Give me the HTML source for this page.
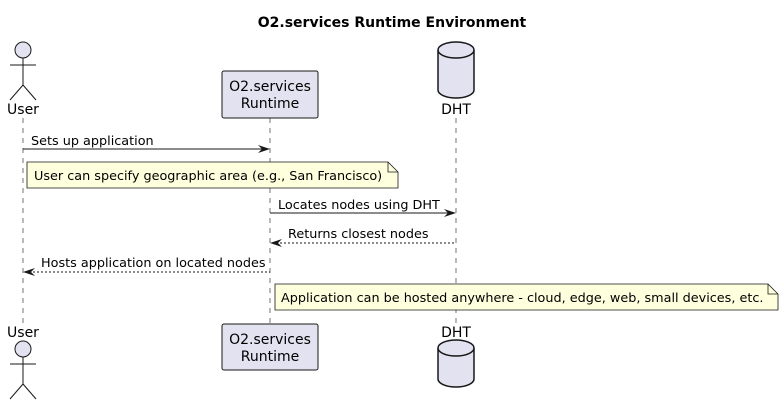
<!DOCTYPE html>
<html><head><meta charset="utf-8"><style>body{margin:0;background:#fff}svg{display:block}</style></head><body>
<svg width="784" height="405" xmlns="http://www.w3.org/2000/svg" font-family="DejaVu Sans, Liberation Sans, sans-serif">
<text x="392" y="27" text-anchor="middle" font-weight="bold" font-size="14">O2.services Runtime Environment</text>
<g stroke="#181818" stroke-width="0.6" stroke-dasharray="5,5">
<line x1="23" y1="118" x2="23" y2="323"/>
<line x1="270" y1="118" x2="270" y2="323"/>
<line x1="456" y1="118" x2="456" y2="323"/>
</g>
<g fill="#E2E2F0" stroke="#181818" stroke-width="1">
<circle cx="23" cy="50" r="8"/>
<line x1="23" y1="58" x2="23" y2="85"/><line x1="10" y1="65" x2="36" y2="65"/>
<line x1="23" y1="85" x2="10" y2="100"/><line x1="23" y1="85" x2="36" y2="100"/>
<circle cx="23" cy="349" r="8"/>
<line x1="23" y1="357" x2="23" y2="384"/><line x1="10" y1="364" x2="36" y2="364"/>
<line x1="23" y1="384" x2="10" y2="399"/><line x1="23" y1="384" x2="36" y2="399"/>
<rect x="222" y="71" width="96" height="47" rx="2"/>
<rect x="222" y="324" width="96" height="46" rx="2"/>
</g>
<g fill="#E2E2F0" stroke="#181818" stroke-width="1.5">
<path d="M438,50 a18,8 0 0 1 36,0 v40 a18,8 0 0 1 -36,0 z"/>
<path d="M438,50 a18,8 0 0 0 36,0"/>
<path d="M438,348 a18,8 0 0 1 36,0 v31 a18,8 0 0 1 -36,0 z"/>
<path d="M438,348 a18,8 0 0 0 36,0"/>
</g>
<g font-size="14" fill="#000" text-anchor="middle">
<text x="23" y="114">User</text>
<text x="23" y="337">User</text>
<text x="270" y="91">O2.services</text>
<text x="270" y="108">Runtime</text>
<text x="270" y="344">O2.services</text>
<text x="270" y="361">Runtime</text>
<text x="456" y="114">DHT</text>
<text x="456" y="337">DHT</text>
</g>
<g stroke="#181818" stroke-width="1">
<line x1="23" y1="149" x2="268" y2="149"/>
<line x1="270" y1="213" x2="454" y2="213"/>
<line x1="272" y1="243" x2="456" y2="243" stroke-dasharray="2,2"/>
<line x1="25" y1="272" x2="270" y2="272" stroke-dasharray="2,2"/>
</g>
<g fill="#181818">
<path d="M258,145 L270,149 L258,153 L262,149 z"/>
<path d="M444,209 L456,213 L444,217 L448,213 z"/>
<path d="M282,239 L270,243 L282,247 L278,243 z"/>
<path d="M35,268 L23,272 L35,276 L31,272 z"/>
</g>
<g font-size="12.8" fill="#000">
<text x="31" y="145">Sets up application</text>
<text x="278" y="209">Locates nodes using DHT</text>
<text x="288" y="238">Returns closest nodes</text>
<text x="41" y="267">Hosts application on located nodes</text>
</g>
<g fill="#FEFFDD" stroke="#181818" stroke-width="0.8">
<path d="M27,162 H388 L398,172 V188 H27 Z"/><path d="M388,162 V172 H398" fill="none"/>
<path d="M275,284 H768 L778,294 V310 H275 Z"/><path d="M768,284 V294 H778" fill="none"/>
</g>
<g font-size="12.8" fill="#000">
<text x="34" y="180">User can specify geographic area (e.g., San Francisco)</text>
<text x="281" y="302">Application can be hosted anywhere - cloud, edge, web, small devices, etc.</text>
</g>
</svg>
</body></html>
